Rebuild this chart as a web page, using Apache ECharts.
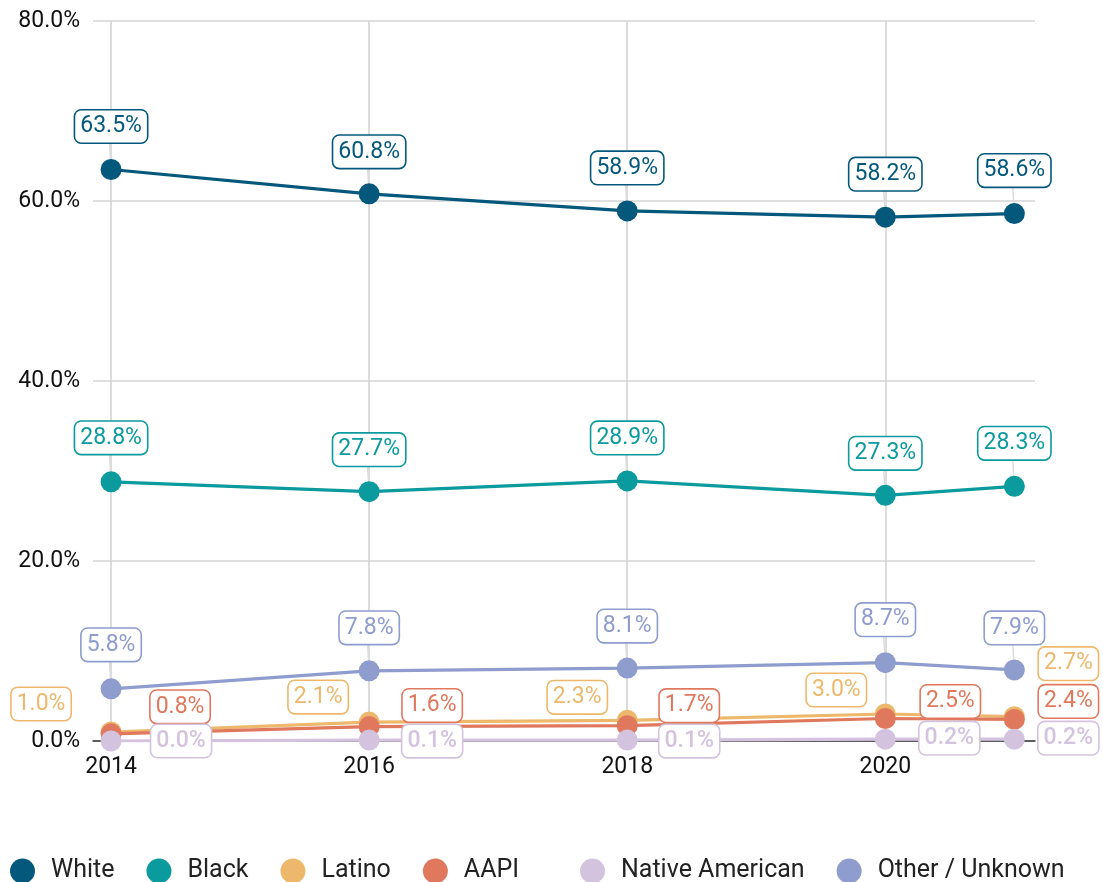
<!DOCTYPE html>
<html>
<head>
<meta charset="utf-8">
<script src="https://cdn.jsdelivr.net/npm/echarts@6/dist/echarts.min.js"></script>
<style>
  html, body { margin: 0; padding: 0; background: #fff; }
  #chart { width: 1103px; height: 882px; }
</style>
</head>
<body>
<div id="chart"></div>
<script>
  const years = [2014, 2016, 2018, 2020, 2021];
  const tickYears = [2014, 2016, 2018, 2020];
  const groups = ["White", "Black", "Latino", "AAPI", "Native American", "Other / Unknown"];
  const white = [63.5, 60.8, 58.9, 58.2, 58.6];
  const black = [28.8, 27.7, 28.9, 27.3, 28.3];
  const latino = [1.0, 2.1, 2.3, 3.0, 2.7];
  const aapi = [0.8, 1.6, 1.7, 2.5, 2.4];
  const nativeAmerican = [0.0, 0.1, 0.1, 0.2, 0.2];
  const otherUnknown = [5.8, 7.8, 8.1, 8.7, 7.9];

  const values = [white, black, latino, aapi, nativeAmerican, otherUnknown];
  const colors = ["#04587c", "#0b9a9d", "#edb86b", "#e0785d", "#d3c3de", "#8e9cce"];
  const withGuide = [true, true, false, false, false, true];

  // label nudges (px) so the boxes don't collide, like a repel layout
  const nudges = [
    [[0, -43], [0, -42], [0, -43], [0, -43], [0, -43]],
    [[0, -44], [0, -42], [0, -43], [0, -42], [0, -43]],
    [[-70, -28], [-51, -25], [-50, -23], [-49, -24], [54, -53]],
    [[69, -27], [63, -21], [62, -20], [65, -17], [54, -18]],
    [[70, 0], [63, 1], [62, 1], [64, -1], [54, -1]],
    [[0, -44], [0, -43], [0, -42], [0, -43], [0, -42]]
  ];

  const chart = echarts.init(document.getElementById("chart"));
  const font = "Roboto";

  const series = groups.map(function (name, i) {
    return {
      name: name,
      type: "line",
      symbol: "circle",
      symbolSize: 21,
      lineStyle: { width: 3.2, color: colors[i] },
      itemStyle: { color: colors[i] },
      emphasis: { disabled: true },
      z: 2 + i,
      data: years.map(function (yr, j) {
        return {
          value: [yr, values[i][j]],
          label: { offset: nudges[i][j] }
        };
      }),
      label: {
        show: true,
        position: "inside",
        formatter: function (p) { return p.value[1].toFixed(1) + "%"; },
        fontFamily: font,
        fontSize: 23,
        lineHeight: 24,
        fontWeight: name === "Native American" ? 500 : "normal",
        color: colors[i],
        backgroundColor: "#fff",
        borderColor: colors[i],
        borderWidth: 1.6,
        borderRadius: 6,
        padding: [5, 5, 3, 5]
      },
      labelLine: {
        show: withGuide[i],
        lineStyle: { color: "#dcdcdc", width: 1.5 }
      }
    };
  });

  function legendBlock(names, left) {
    return {
      data: names,
      left: left,
      top: 858,
      padding: 0,
      icon: "circle",
      itemWidth: 25,
      itemHeight: 25,
      itemGap: 32,
      textStyle: { fontFamily: font, fontSize: 25, lineHeight: 26, color: "#222", padding: [0, 0, 0, 11] }
    };
  }

  chart.setOption({
    animation: false,
    color: colors,
    grid: { left: 93, right: 68, top: 21, bottom: 141 },
    legend: [
      legendBlock(groups.slice(0, 4), 10),
      legendBlock(groups.slice(4), 580)
    ],
    xAxis: {
      type: "value",
      min: 2013.86,
      max: 2021.16,
      axisLine: { show: true, onZero: false, lineStyle: { color: "#333", width: 1.5 } },
      axisTick: { show: false, customValues: tickYears },
      splitLine: { show: true, customValues: tickYears, lineStyle: { color: "#d4d4d4", width: 1.6 } },
      axisLabel: {
        customValues: tickYears,
        color: "#111",
        fontFamily: font,
        fontSize: 23,
        margin: 15,
        formatter: function (v) { return String(v); }
      }
    },
    yAxis: {
      type: "value",
      min: 0,
      max: 80,
      interval: 20,
      axisLine: { show: false },
      axisTick: { show: false },
      splitLine: { lineStyle: { color: "#d4d4d4", width: 1.6 } },
      axisLabel: {
        color: "#111",
        fontFamily: font,
        fontSize: 23,
        margin: 13,
        formatter: function (v) { return v.toFixed(1) + "%"; }
      }
    },
    series: series
  });
</script>
</body>
</html>
